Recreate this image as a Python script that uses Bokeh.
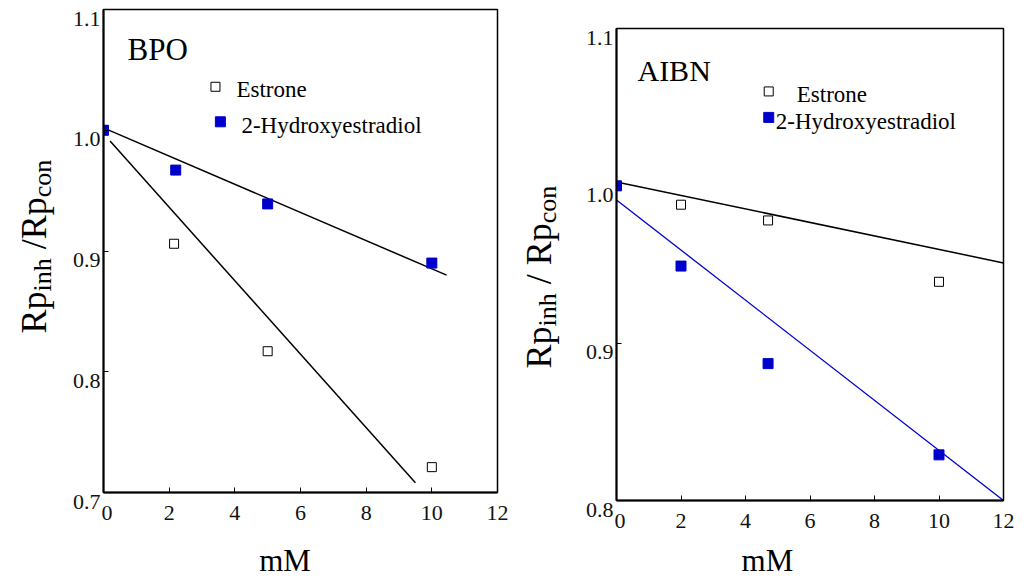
from bokeh.plotting import figure
from bokeh.models import Range1d, FixedTicker, Label
from bokeh.layouts import row, column
from bokeh.embed import file_html
from bokeh.resources import INLINE
from bokeh.core.properties import value
import math

FONT = "Liberation Serif"
BLUE = "#0000cc"
H = 583
NBSP = "\u00a0"

x_ticks = [0, 2, 4, 6, 8, 10, 12]

# ---- BPO panel data ----
bpo_estrone_x = [0, 2.15, 5, 10]
bpo_estrone_y = [1.000, 0.906, 0.817, 0.721]
bpo_hydroxy_x = [0, 2.2, 5, 10]
bpo_hydroxy_y = [1.000, 0.967, 0.939, 0.890]
bpo_fit_hydroxy_x = [0, 10.45]
bpo_fit_hydroxy_y = [1.002, 0.880]
bpo_fit_estrone_x = [0.2, 9.5]
bpo_fit_estrone_y = [0.991, 0.708]
bpo_y_ticks = [0.7, 0.8, 0.9, 1.0, 1.1]

# ---- AIBN panel data ----
aibn_estrone_x = [0, 2, 4.7, 10]
aibn_estrone_y = [1.000, 0.988, 0.978, 0.939]
aibn_hydroxy_x = [0, 2, 4.7, 10]
aibn_hydroxy_y = [1.000, 0.949, 0.887, 0.829]
aibn_fit_estrone_x = [0, 12]
aibn_fit_estrone_y = [1.0025, 0.951]
aibn_fit_hydroxy_x = [0, 12]
aibn_fit_hydroxy_y = [0.991, 0.800]
aibn_y_ticks = [0.8, 0.9, 1.0, 1.1]

series_names = ["Estrone", "2-Hydroxyestradiol"]
x_title = "mM"


def make_panel(width, y0, y_ticks, br, bt, bb, pad, standoff):
    p = figure(width=width, height=H, x_range=Range1d(0, 12), y_range=Range1d(y0, 1.1),
               output_backend="svg", toolbar_location=None, title=None,
               min_border_left=2, min_border_right=br, min_border_top=bt, min_border_bottom=bb)
    p.xgrid.visible = False
    p.ygrid.visible = False
    p.outline_line_color = "black"
    p.outline_line_width = 1.5
    p.background_fill_color = "white"
    p.border_fill_color = "white"
    p.xaxis.ticker = FixedTicker(ticks=x_ticks)
    p.yaxis.ticker = FixedTicker(ticks=y_ticks)
    for ax in (p.xaxis[0], p.yaxis[0]):
        ax.major_tick_in = 5
        ax.major_tick_out = 0
        ax.minor_tick_in = 0
        ax.minor_tick_out = 0
        ax.axis_line_width = 2
        ax.major_tick_line_width = 1
        ax.major_label_text_font = FONT
        ax.major_label_text_font_size = "22px"
        ax.major_label_text_color = "#111111"
    p.xaxis.major_label_standoff = 13
    # x-axis title (trailing no-break spaces shift it left of centre as in the original)
    p.xaxis.axis_label = x_title + NBSP * pad
    p.xaxis.axis_label_text_font = FONT
    p.xaxis.axis_label_text_font_size = "31px"
    p.xaxis.axis_label_text_font_style = "normal"
    p.xaxis.axis_label_text_color = "black"
    p.xaxis.axis_label_standoff = standoff
    # y tick labels are drawn (slightly below their ticks) in the strip on the left
    p.yaxis.major_label_text_font_size = "0px"
    p.yaxis.major_label_text_color = None
    p.yaxis.major_label_standoff = 0
    return p


def left_strip(width, y0, y_ticks, top, bottom, x_base, py_start, wide):
    """Strip left of a panel: y tick labels and the y-axis title, on the panel's y scale."""
    ppu = (bottom - top) / (1.1 - y0)
    t = figure(width=width, height=H, x_range=Range1d(0, width),
               y_range=Range1d(y0 - (H - bottom) / ppu, 1.1 + top / ppu),
               x_axis_type=None, y_axis_type=None, output_backend="svg", toolbar_location=None,
               title=None, min_border=0, min_border_left=0, min_border_right=0,
               min_border_top=0, min_border_bottom=0)
    t.outline_line_color = None
    t.xgrid.visible = False
    t.ygrid.visible = False
    t.text(x=[width - 1] * len(y_ticks), y=y_ticks, text=[f"{v:.1f}" for v in y_ticks],
           y_offset=9, text_font=value(FONT), text_font_size="22px", text_align="right",
           text_baseline="middle", text_color="#111111")

    def to_y(py):
        return y0 + (bottom - py) / ppu

    fs_main, fs_sub = 36, 26
    w_rp = 1.167 * fs_main
    w_inh = 1.278 * fs_sub
    w_space = 0.25 * fs_main
    slash_txt = "/ Rp" if wide else "/Rp"
    w_slash = (0.278 + (0.25 if wide else 0.0) + 1.167) * fs_main
    py_inh = py_start - w_rp
    py_slash = py_inh - w_inh - w_space
    py_con = py_slash - w_slash
    t.text(x=[x_base, x_base], y=[to_y(py_start), to_y(py_slash)], text=["Rp", slash_txt],
           angle=math.pi / 2, text_font=value(FONT), text_font_size=f"{fs_main}px",
           text_align="left", text_baseline="alphabetic", text_color="black")
    t.text(x=[x_base + 9, x_base + 9], y=[to_y(py_inh), to_y(py_con)], text=["inh", "con"],
           angle=math.pi / 2, text_font=value(FONT), text_font_size=f"{fs_sub}px",
           text_align="left", text_baseline="alphabetic", text_color="black")
    return t


# ---------- BPO ----------
t1 = left_strip(101, 0.7, bpo_y_ticks, 9, 492, 33, 333, False)
p1 = make_panel(411, 0.7, bpo_y_ticks, 15, 9, H - 492, 4, 20)
p1.line(bpo_fit_hydroxy_x, bpo_fit_hydroxy_y, line_color="black", line_width=1.5)
p1.line(bpo_fit_estrone_x, bpo_fit_estrone_y, line_color="black", line_width=1.5)
p1.scatter(bpo_estrone_x, bpo_estrone_y, marker="square", size=9, fill_color="white",
           line_color="black", line_width=1)
p1.scatter(bpo_hydroxy_x, bpo_hydroxy_y, marker="square", size=10, fill_color=BLUE,
           line_color=BLUE)
p1.scatter([3.41], [1.036], marker="square", size=9, fill_color="white", line_color="black", line_width=1)
p1.scatter([3.56], [1.007], marker="square", size=10, fill_color=BLUE, line_color=BLUE)
p1.add_layout(Label(x=4.05, y=1.034, text=series_names[0], text_font=FONT, text_font_size="23px",
                    text_baseline="middle", text_color="black"))
p1.add_layout(Label(x=4.2, y=1.004, text=series_names[1], text_font=FONT, text_font_size="23px",
                    text_baseline="middle", text_color="black"))
p1.add_layout(Label(x=0.73, y=1.067, text="BPO", text_font=FONT, text_font_size="31px",
                    text_baseline="alphabetic", text_color="black"))

# ---------- AIBN ----------
t2 = left_strip(102, 0.8, aibn_y_ticks, 28, 500, 26, 368, True)
p2 = make_panel(410, 0.8, aibn_y_ticks, 21, 28, H - 500, 11, 12)
p2.line(aibn_fit_estrone_x, aibn_fit_estrone_y, line_color="black", line_width=1.5)
p2.line(aibn_fit_hydroxy_x, aibn_fit_hydroxy_y, line_color=BLUE, line_width=1.3)
p2.scatter(aibn_estrone_x, aibn_estrone_y, marker="square", size=9, fill_color="white",
           line_color="black", line_width=1)
p2.scatter(aibn_hydroxy_x, aibn_hydroxy_y, marker="square", size=10, fill_color=BLUE,
           line_color=BLUE)
p2.scatter([4.72], [1.060], marker="square", size=9, fill_color="white", line_color="black", line_width=1)
p2.scatter([4.72], [1.0435], marker="square", size=10, fill_color=BLUE, line_color=BLUE)
p2.add_layout(Label(x=5.59, y=1.058, text=series_names[0], text_font=FONT, text_font_size="23px",
                    text_baseline="middle", text_color="black"))
p2.add_layout(Label(x=4.94, y=1.041, text=series_names[1], text_font=FONT, text_font_size="23px",
                    text_baseline="middle", text_color="black"))
p2.add_layout(Label(x=0.65, y=1.073, text="AIBN", text_font=FONT, text_font_size="30px",
                    text_baseline="alphabetic", text_color="black"))

layout = row(column(t1), column(p1), column(t2), column(p2))
open("out.html", "w").write(file_html(layout, INLINE))
